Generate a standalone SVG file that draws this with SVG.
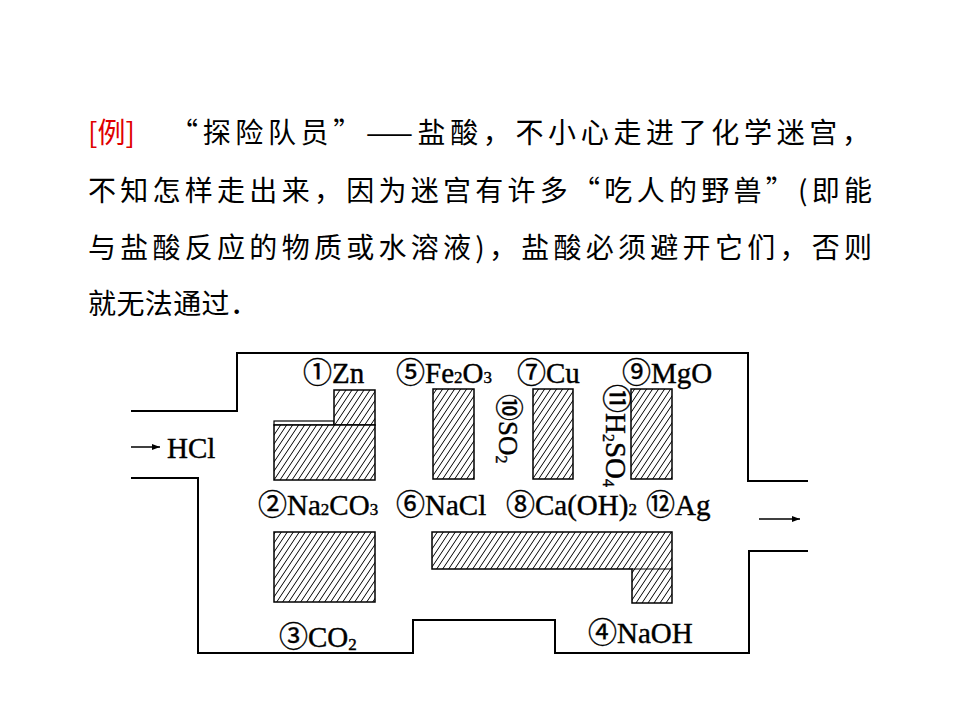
<svg xmlns="http://www.w3.org/2000/svg" width="960" height="720" viewBox="0 0 960 720">
<style>
.cn{font-family:"Noto Sans CJK SC","Liberation Serif",sans-serif;font-size:28px;fill:#000}
.lb{font-family:"Liberation Serif","Noto Sans CJK SC",serif;font-size:29px;fill:#000;stroke:#000;stroke-width:0.4}
.sub{font-size:17px}
.wall{fill:none;stroke:#000;stroke-width:2}
.blk{fill:url(#hatch);stroke:#000;stroke-width:1.5}
</style>
<defs>
<pattern id="hatch" patternUnits="userSpaceOnUse" width="6" height="9">
<rect width="6" height="9" fill="#fff"/>
<path d="M0,9 L6,0 M-1,1.5 L1,-1.5 M5,10.5 L7,7.5" stroke="#000" stroke-width="1"/>
</pattern>
<marker id="ah" markerWidth="8" markerHeight="6" refX="8" refY="3" orient="auto" markerUnits="userSpaceOnUse">
<path d="M0,0 L8,3 L0,6 Z" fill="#000"/>
</marker>
</defs>
<rect width="960" height="720" fill="#fff"/>
<g id="question">
<text class="cn" x="88" y="143" style="fill:#e00000">[例]</text>
<text class="cn" x="170" y="143" textLength="700" lengthAdjust="spacing">“探险队员”——盐酸，不小心走进了化学迷宫，</text>
<text class="cn" x="88" y="201" textLength="784" lengthAdjust="spacing">不知怎样走出来，因为迷宫有许多“吃人的野兽”(即能</text>
<text class="cn" x="88" y="258" textLength="784" lengthAdjust="spacing">与盐酸反应的物质或水溶液)，盐酸必须避开它们，否则</text>
<text class="cn" x="88" y="314" textLength="170" lengthAdjust="spacing">就无法通过．</text>
</g>
<g id="maze">
<path class="wall" d="M131,411 H237 V353 H748 V481 H808"/>
<path class="wall" d="M131,478 H198 V653 H413 V620 H555 V653 H749 V551 H808"/>
</g>
<g id="connectors">
<line x1="131" y1="447" x2="160" y2="447" stroke="#000" stroke-width="1.5" marker-end="url(#ah)"/>
<line x1="759" y1="519" x2="800" y2="519" stroke="#000" stroke-width="1.5" marker-end="url(#ah)"/>
</g>
<g id="blocks">
<g id="block-zn-na2co3">
<rect x="274" y="421" width="60" height="4" fill="#fff" stroke="#000" stroke-width="1.2"/>
<rect class="blk" x="334" y="390" width="41" height="35"/>
<rect class="blk" x="274" y="425" width="101" height="55"/>
</g>
<rect id="block-co2" class="blk" x="274" y="532" width="101" height="70"/>
<rect id="block-fe2o3" class="blk" x="433" y="389" width="41" height="90"/>
<rect id="block-cu" class="blk" x="533" y="389" width="40" height="90"/>
<rect id="block-mgo" class="blk" x="631" y="389" width="41" height="90"/>
<path id="block-bar" class="blk" d="M432,532 H672 V603 H632 V569 H432 Z"/>
<line x1="632" y1="569" x2="672" y2="569" stroke="#000" stroke-width="1.2"/>
</g>
<g id="labels">
<text id="hcl" class="lb" x="167" y="458">HCl</text>
<text id="l1" class="lb" x="303" y="383">①Zn</text>
<text id="l5" class="lb" x="396" y="383">⑤Fe<tspan class="sub">2</tspan>O<tspan class="sub">3</tspan></text>
<text id="l7" class="lb" x="517" y="383">⑦Cu</text>
<text id="l9" class="lb" x="622" y="383">⑨MgO</text>
<text id="l2" class="lb" x="258" y="515">②Na<tspan class="sub">2</tspan>CO<tspan class="sub">3</tspan></text>
<text id="l6" class="lb" x="396" y="515">⑥NaCl</text>
<text id="l8" class="lb" x="506" y="515">⑧Ca(OH)<tspan class="sub">2</tspan></text>
<text id="l12" class="lb" x="646" y="515">⑫Ag</text>
<text id="l3" class="lb" x="279" y="647">③CO<tspan class="sub" dy="3">2</tspan></text>
<text id="l4" class="lb" x="588" y="643">④NaOH</text>
<text id="l10" class="lb" style="font-size:27px" transform="translate(499,394) rotate(90)">⑩SO<tspan dy="3" style="font-size:16px">2</tspan></text>
<text id="l11" class="lb" style="font-size:29px" transform="translate(606,384) rotate(90)">⑪H<tspan dy="3" style="font-size:16px">2</tspan><tspan dy="-3">SO</tspan><tspan dy="3" style="font-size:16px">4</tspan></text>
</g>
</svg>
